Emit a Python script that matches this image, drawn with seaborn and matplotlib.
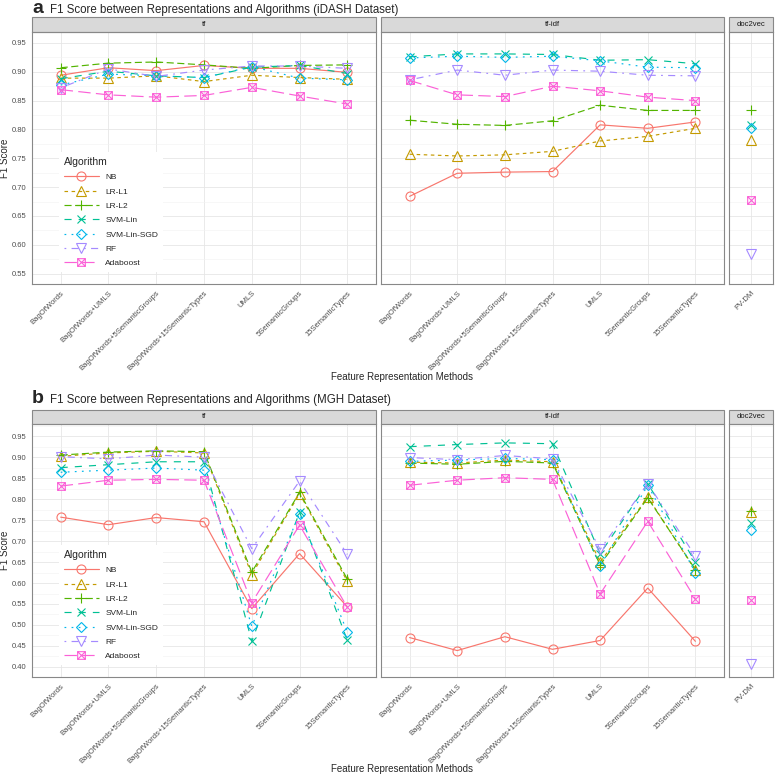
import pandas as pd
import numpy as np
import matplotlib.pyplot as plt
import seaborn as sns
from matplotlib.path import Path
from matplotlib.patches import Rectangle
from matplotlib.lines import Line2D
from matplotlib.ticker import MultipleLocator

sns.set_style("white")
plt.rcParams['font.family'] = ['Liberation Sans', 'DejaVu Sans']

# 数据
reps = ['BagOfWords', 'BagOfWords+UMLS', 'BagOfWords+5SemanticGroups',
        'BagOfWords+15SemanticTypes', 'UMLS', '5SemanticGroups', '15SemanticTypes']
d2v_reps = ['PV-DM']
algorithms = ['NB', 'LR-L1', 'LR-L2', 'SVM-Lin', 'SVM-Lin-SGD', 'RF', 'Adaboost']

idash_tf = {
    'NB':          [0.894, 0.907, 0.902, 0.911, 0.906, 0.906, 0.899],
    'LR-L1':       [0.889, 0.889, 0.893, 0.883, 0.894, 0.890, 0.887],
    'LR-L2':       [0.907, 0.915, 0.917, 0.912, 0.906, 0.911, 0.912],
    'SVM-Lin':     [0.888, 0.901, 0.893, 0.890, 0.908, 0.911, 0.897],
    'SVM-Lin-SGD': [0.877, 0.896, 0.893, 0.890, 0.909, 0.889, 0.886],
    'RF':          [0.872, 0.905, 0.892, 0.903, 0.910, 0.910, 0.906],
    'Adaboost':    [0.869, 0.860, 0.856, 0.859, 0.873, 0.858, 0.844],
}
idash_tfidf = {
    'NB':          [0.684, 0.724, 0.726, 0.727, 0.808, 0.802, 0.813],
    'LR-L1':       [0.757, 0.754, 0.756, 0.762, 0.780, 0.788, 0.802],
    'LR-L2':       [0.816, 0.809, 0.807, 0.815, 0.842, 0.833, 0.833],
    'SVM-Lin':     [0.926, 0.931, 0.931, 0.930, 0.920, 0.921, 0.914],
    'SVM-Lin-SGD': [0.924, 0.927, 0.925, 0.927, 0.919, 0.908, 0.907],
    'RF':          [0.886, 0.903, 0.894, 0.903, 0.901, 0.894, 0.893],
    'Adaboost':    [0.885, 0.860, 0.857, 0.875, 0.867, 0.856, 0.850],
}
idash_d2v = {
    'NB': [None], 'LR-L1': [0.782], 'LR-L2': [0.834], 'SVM-Lin': [0.808],
    'SVM-Lin-SGD': [0.802], 'RF': [0.584], 'Adaboost': [0.677],
}
mgh_tf = {
    'NB':          [0.757, 0.739, 0.756, 0.746, 0.539, 0.670, 0.543],
    'LR-L1':       [0.902, 0.910, 0.914, 0.910, 0.620, 0.813, 0.604],
    'LR-L2':       [0.905, 0.912, 0.915, 0.913, 0.626, 0.816, 0.609],
    'SVM-Lin':     [0.875, 0.882, 0.889, 0.889, 0.461, 0.769, 0.463],
    'SVM-Lin-SGD': [0.864, 0.869, 0.874, 0.869, 0.497, 0.765, 0.483],
    'RF':          [0.901, 0.896, 0.905, 0.900, 0.682, 0.843, 0.668],
    'Adaboost':    [0.831, 0.845, 0.847, 0.845, 0.553, 0.738, 0.542],
}
mgh_tfidf = {
    'NB':          [0.470, 0.439, 0.472, 0.442, 0.463, 0.588, 0.461],
    'LR-L1':       [0.888, 0.886, 0.893, 0.889, 0.650, 0.805, 0.630],
    'LR-L2':       [0.886, 0.883, 0.890, 0.886, 0.643, 0.803, 0.632],
    'SVM-Lin':     [0.925, 0.930, 0.934, 0.932, 0.670, 0.837, 0.650],
    'SVM-Lin-SGD': [0.890, 0.893, 0.897, 0.894, 0.640, 0.833, 0.625],
    'RF':          [0.899, 0.894, 0.904, 0.896, 0.680, 0.837, 0.664],
    'Adaboost':    [0.833, 0.845, 0.851, 0.847, 0.574, 0.747, 0.562],
}
mgh_d2v = {
    'NB': [None], 'LR-L1': [0.769], 'LR-L2': [0.772], 'SVM-Lin': [0.743],
    'SVM-Lin-SGD': [0.726], 'RF': [0.408], 'Adaboost': [0.560],
}

colors = ['#F8766D', '#C49A00', '#53B400', '#00C094', '#00B6EB', '#A58AFF', '#FB61D7']
# 正方形加叉 (ggplot shape 7)
box_x = Path([(-1, -1), (1, -1), (1, 1), (-1, 1), (-1, -1), (-1, -1), (1, 1), (-1, 1), (1, -1)],
             [Path.MOVETO, Path.LINETO, Path.LINETO, Path.LINETO, Path.CLOSEPOLY,
              Path.MOVETO, Path.LINETO, Path.MOVETO, Path.LINETO])
markers = ['o', '^', '+', 'x', 'D', 'v', box_x]
msizes = [6.5, 6.5, 7.5, 6, 5.5, 6.5, 5.5]
dashes = [(None, None), (0, (3, 3)), (0, (6, 3)), (0, (6, 6)), (0, (1.5, 4.5)),
          (0, (1.5, 4.5, 6, 4.5)), (0, (10.5, 4.5))]

W = 778.0
fig = plt.figure(figsize=(7.78, 7.78), dpi=100)


def px_axes(x0, x1, y0, y1):
    return fig.add_axes([x0 / W, 1 - y1 / W, (x1 - x0) / W, (y1 - y0) / W])


def draw_facet(ax, values, cats, ylim, strip, strip_h):
    rows = []
    for alg in algorithms:
        for r, v in zip(cats, values[alg]):
            if v is not None:
                rows.append((alg, r, v))
    df = pd.DataFrame(rows, columns=['alg', 'rep', 'f1'])
    df['rep'] = pd.Categorical(df['rep'], categories=cats)
    for i, alg in enumerate(algorithms):
        sub = df[df['alg'] == alg]
        if len(sub) == 0:
            continue
        ls = '-' if dashes[i][0] is None else dashes[i]
        sns.lineplot(data=sub, x='rep', y='f1', ax=ax, color=colors[i], marker=markers[i],
                     ms=msizes[i], mfc='none', mec=colors[i], mew=0.8, lw=0.85,
                     linestyle=ls, sort=False, errorbar=None, legend=False)
    n = len(cats)
    pad = 0.6 if n > 1 else 0.46
    ax.set_xlim(-pad, n - 1 + pad)
    ax.set_ylim(*ylim)
    ax.set_xticks(range(n))
    ax.set_xticklabels(cats, rotation=45, ha='right', rotation_mode='anchor',
                       fontsize=5.5, color='#4d4d4d')
    ax.yaxis.set_major_locator(MultipleLocator(0.05))
    ax.yaxis.set_minor_locator(MultipleLocator(0.025))
    ax.grid(True, which='major', color='#e6e6e6', lw=0.6)
    ax.grid(True, which='minor', axis='y', color='#f2f2f2', lw=0.4)
    ax.set_axisbelow(True)
    ax.set_xlabel('')
    ax.set_ylabel('')
    ax.tick_params(axis='both', direction='out', length=2.5, width=0.6, color='#555555',
                   labelsize=5.5, labelcolor='#4d4d4d', pad=1.5)
    ax.tick_params(axis='y', which='minor', length=0)
    for s in ax.spines.values():
        s.set_color('#888888')
        s.set_linewidth(0.8)
    h = strip_h / (ax.get_position().height * W)
    ax.add_patch(Rectangle((0, 1), 1, h, transform=ax.transAxes, clip_on=False,
                           fc='#d9d9d9', ec='#888888', lw=0.8))
    ax.text(0.5, 1 + h / 2, strip, transform=ax.transAxes, ha='center', va='center',
            fontsize=5.5, color='#1a1a1a')


panels = [
    ('a', 'F1 Score between Representations and Algorithms (iDASH Dataset)',
     idash_tf, idash_tfidf, idash_d2v, (0.532, 0.969), 17, 32, 284, 13, 380),
    ('b', 'F1 Score between Representations and Algorithms (MGH Dataset)',
     mgh_tf, mgh_tfidf, mgh_d2v, (0.376, 0.979), 410, 424, 677, 403, 772),
]

for letter, title, tf, tfidf, d2v, ylim, s0, y0, y1, tb, xl in panels:
    ax1 = px_axes(32, 376, y0, y1)
    ax2 = px_axes(381, 724, y0, y1)
    ax3 = px_axes(729, 773, y0, y1)
    draw_facet(ax1, tf, reps, ylim, 'tf', y0 - s0)
    draw_facet(ax2, tfidf, reps, ylim, 'tf-idf', y0 - s0)
    draw_facet(ax3, d2v, d2v_reps, ylim, 'doc2vec', y0 - s0)
    ax2.set_yticklabels([])
    ax3.set_yticklabels([])
    ax2.tick_params(axis='y', length=0)
    ax3.tick_params(axis='y', length=0)
    fig.text(32 / W, 1 - tb / W, letter, fontsize=14, fontweight='bold', va='baseline')
    fig.text(50 / W, 1 - tb / W, title, fontsize=8.3, va='baseline')
    fig.text(5.5 / W, 1 - (y0 + y1) / 2 / W, 'F1 Score', rotation=90, fontsize=7,
             ha='center', va='center')
    fig.text(402 / W, 1 - xl / W, 'Feature Representation Methods', fontsize=7,
             ha='center', va='baseline')
    handles = [Line2D([], [], color=colors[i], marker=markers[i], ms=msizes[i], mfc='none',
                      mew=0.8, lw=0.85, linestyle='-' if dashes[i][0] is None else dashes[i])
               for i in range(len(algorithms))]
    leg = ax1.legend(handles, algorithms, title='Algorithm', loc='lower left',
                     bbox_to_anchor=(0.065, 0.03), frameon=True, fontsize=6,
                     title_fontsize=7.5, handlelength=4.2, labelspacing=0.78,
                     borderpad=0.6)
    leg.get_frame().set_edgecolor('none')
    leg.get_frame().set_facecolor('white')
    leg.get_frame().set_alpha(1)
    leg._legend_box.align = 'left'

fig.savefig('out.png', dpi=100)
